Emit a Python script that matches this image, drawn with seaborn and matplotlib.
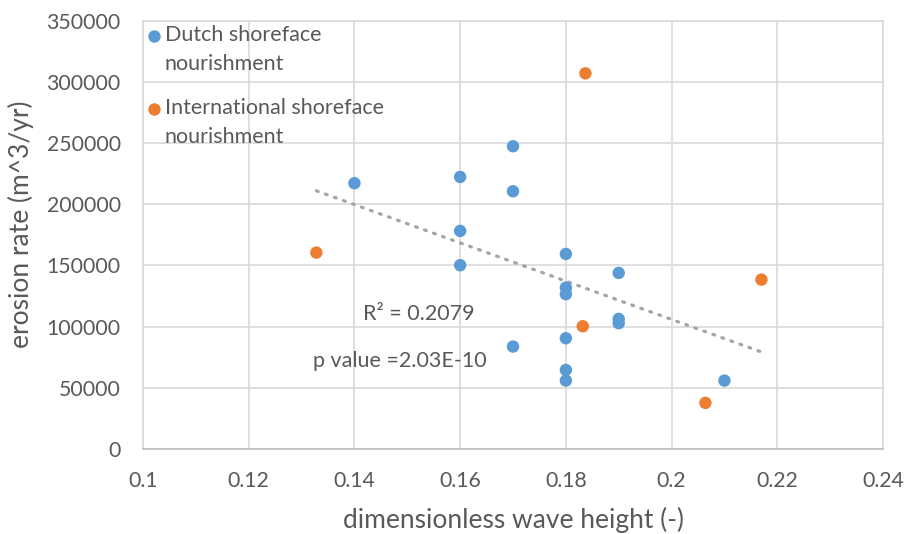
import numpy as np
import pandas as pd
import seaborn as sns
import matplotlib.pyplot as plt

# Dutch shoreface nourishments
dutch_height = [0.14, 0.16, 0.16, 0.16, 0.17, 0.17, 0.17,
                0.18, 0.18, 0.18, 0.18, 0.18, 0.18,
                0.19, 0.19, 0.19, 0.21]
dutch_erosion = [217200, 222300, 178200, 150200, 247400, 210600, 83700,
                 159400, 131900, 126500, 90500, 64600, 55900,
                 143900, 106300, 102800, 55900]

# International shoreface nourishments
intl_height = [0.1328, 0.1837, 0.1832, 0.2064, 0.2170]
intl_erosion = [160500, 307000, 100300, 37700, 138400]

group_labels = ["Dutch shoreface\nnourishment",
                "International shoreface\nnourishment"]
group_colors = ["#5B9BD5", "#ED7D31"]

r_squared_text = "R\u00b2 = 0.2079"
p_value_text = "p value =2.03E-10"

x_ticks = [0.1, 0.12, 0.14, 0.16, 0.18, 0.2, 0.22, 0.24]
x_tick_labels = ["0.1", "0.12", "0.14", "0.16", "0.18", "0.2", "0.22", "0.24"]
y_ticks = [0, 50000, 100000, 150000, 200000, 250000, 300000, 350000]
y_tick_labels = [str(v) for v in y_ticks]

df = pd.DataFrame({
    "height": dutch_height + intl_height,
    "erosion": dutch_erosion + intl_erosion,
    "group": [group_labels[0]] * len(dutch_height) + [group_labels[1]] * len(intl_height),
})

sns.set_theme(style="whitegrid")
plt.rcParams["font.family"] = ["Lato", "DejaVu Sans"]
text_color = "#595959"
grid_color = "#D9D9D9"

fig = plt.figure(figsize=(9.05, 5.34), dpi=100)
ax = fig.add_axes([143 / 905, 1 - 449 / 534, 740 / 905, (449 - 20.7) / 534])

sns.scatterplot(data=df, x="height", y="erosion", hue="group",
                hue_order=group_labels, palette=group_colors,
                s=80, edgecolor="none", linewidth=0, ax=ax, zorder=3)

# linear trend over all nourishments
sns.regplot(data=df, x="height", y="erosion", scatter=False, ci=None,
            truncate=True, color="#A5A5A5", ax=ax,
            line_kws=dict(linestyle=(0, (0.6, 2.4)), linewidth=2.3,
                          dash_capstyle="round", zorder=2))

ax.set_xlim(0.1, 0.24)
ax.set_ylim(0, 350000)
ax.set_xticks(x_ticks)
ax.set_xticklabels(x_tick_labels)
ax.set_yticks(y_ticks)
ax.set_yticklabels(y_tick_labels)
ax.tick_params(axis="both", length=0, labelsize=15.3, colors=text_color)
ax.tick_params(axis="y", pad=16)
ax.tick_params(axis="x", pad=15.5)
ax.grid(True, color=grid_color, linewidth=1.2)
for sp in ax.spines.values():
    sp.set_color(grid_color)
    sp.set_linewidth(1.2)
ax.spines["bottom"].set_color("#BFBFBF")

ax.set_xlabel("dimensionless wave height (-)", fontsize=19, color=text_color, labelpad=12)
ax.set_ylabel("erosion rate (m^3/yr)", fontsize=19, color=text_color)
ax.yaxis.set_label_coords(-0.147, 0.525)

ax.text(0.1522, 110400, r_squared_text, fontsize=15.5, color=text_color,
        ha="center", va="center")
ax.text(0.1485, 72000, p_value_text, fontsize=15.5, color=text_color,
        ha="center", va="center")

legend_fs = 15.5
line_pitch_pt = 29 * 72 / 100
sns.move_legend(ax, "upper left", bbox_to_anchor=(0.0, 1.0), frameon=False,
                title=None, fontsize=legend_fs, handletextpad=0.2,
                labelspacing=1.11, borderaxespad=0.1, borderpad=0.1,
                handlelength=0.6, markerscale=1.0)
leg = ax.get_legend()
for t in leg.get_texts():
    t.set_color(text_color)
    t.set_linespacing(1.57)
# put each legend marker beside the first line of its label
for h in leg.legend_handles:
    y = np.asarray(h.get_ydata(), dtype=float)
    h.set_ydata(y + line_pitch_pt / 2)

fig.savefig("out.png", dpi=100)
